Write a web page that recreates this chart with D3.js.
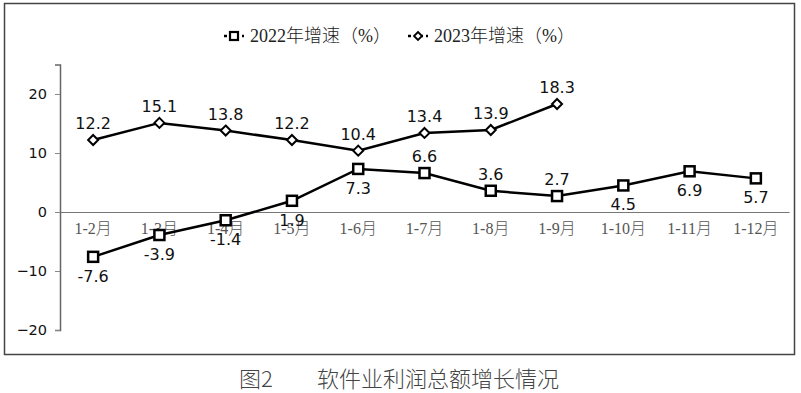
<!DOCTYPE html>
<html>
<head>
	<meta charset="UTF-8">
	<script src="https://d3js.org/d3.v7.min.js"></script>
	<style>
		body{ margin:0; background:#fff; }
	</style>
</head>
<body>
	<div class="chart"></div>
	<script type="text/javascript">
		var months = ["1-2月","1-3月","1-4月","1-5月","1-6月","1-7月","1-8月","1-9月","1-10月","1-11月","1-12月"];
		var growth2022 = [-7.6, -3.9, -1.4, 1.9, 7.3, 6.6, 3.6, 2.7, 4.5, 6.9, 5.7];
		var growth2023 = [12.2, 15.1, 13.8, 12.2, 10.4, 13.4, 13.9, 18.3];
		var yTicks = [-20, -10, 0, 10, 20];
		var legendNames = ["2022年增速（%）", "2023年增速（%）"];
		var title = "图2　　软件业利润总额增长情况";
		// label side for 2022 series: 1 = below, -1 = above
		var side2022 = [1, 1, 1, 1, 1, -1, -1, -1, 1, 1, 1];

		var W = 801, H = 393;
		var l = 60, r = 789;

		var svg = d3.select("div.chart").append("svg")
					.attr("width", W).attr("height", H);

		// outer frame
		svg.append("rect").attr("x", 4.5).attr("y", 3.5).attr("width", 790).attr("height", 351)
		   .attr("fill", "none").attr("stroke", "#444").attr("stroke-width", 1.5);

		var xScale = d3.scaleBand().domain(months).range([l, r]);
		var yScale = d3.scaleLinear().domain([-20, 25]).range([330, 64.5]);
		var cx = function(i){ return xScale(months[i]) + xScale.bandwidth()/2; };

		// y axis
		var yAxis = d3.axisLeft(yScale).tickValues(yTicks).tickSize(5).tickPadding(8);
		var gy = svg.append("g").attr("transform", "translate(" + l + ",0)").call(yAxis);
		gy.select(".domain").attr("stroke", "#666").attr("stroke-width", 1.5);
		gy.selectAll(".tick line").attr("stroke", "#888");
		gy.selectAll(".tick text").attr("font-family", "DejaVu Sans, Verdana, sans-serif")
		  .attr("font-size", "14.5px").attr("fill", "#111");

		// x axis at zero
		var xAxis = d3.axisBottom(xScale).tickSize(0).tickPadding(11);
		var gx = svg.append("g").attr("transform", "translate(0," + yScale(0) + ")").call(xAxis);
		gx.select(".domain").attr("stroke", "#777").attr("stroke-width", 1.2);
		gx.selectAll(".tick text").attr("font-family", "Liberation Serif, Noto Sans CJK SC, serif")
		  .attr("font-size", "16px").attr("font-weight", 300).attr("fill", "#555");

		var line = d3.line().x(function(d, i){ return cx(i); }).y(function(d){ return yScale(d); });

		svg.append("path").datum(growth2022).attr("d", line)
		   .attr("fill", "none").attr("stroke", "#000").attr("stroke-width", 2.5);
		svg.append("path").datum(growth2023).attr("d", line)
		   .attr("fill", "none").attr("stroke", "#000").attr("stroke-width", 2.5);

		// square markers
		svg.selectAll("rect.sq").data(growth2022).enter().append("rect")
		   .attr("class", "sq")
		   .attr("x", function(d, i){ return cx(i) - 5; })
		   .attr("y", function(d){ return yScale(d) - 5; })
		   .attr("width", 10).attr("height", 10)
		   .attr("fill", "#fff").attr("stroke", "#000").attr("stroke-width", 2.5);

		// diamond markers
		svg.selectAll("path.dm").data(growth2023).enter().append("path")
		   .attr("class", "dm")
		   .attr("d", function(d, i){
				var x = cx(i), y = yScale(d), s = 5;
				return "M" + x + "," + (y - s) + "L" + (x + s) + "," + y + "L" + x + "," + (y + s) + "L" + (x - s) + "," + y + "Z";
		   })
		   .attr("fill", "#fff").attr("stroke", "#000").attr("stroke-width", 2);

		// labels
		svg.selectAll("text.l22").data(growth2022).enter().append("text")
		   .attr("class", "l22")
		   .attr("text-anchor", "middle")
		   .attr("x", function(d, i){ return cx(i); })
		   .attr("y", function(d, i){ return yScale(d) + (side2022[i] > 0 ? 25 : -11); })
		   .attr("font-family", "DejaVu Sans, Verdana, sans-serif").attr("font-size", "16px").attr("fill", "#111")
		   .text(function(d){ return d; });

		svg.selectAll("text.l23").data(growth2023).enter().append("text")
		   .attr("class", "l23")
		   .attr("text-anchor", "middle")
		   .attr("x", function(d, i){ return cx(i); })
		   .attr("y", function(d){ return yScale(d) - 11; })
		   .attr("font-family", "DejaVu Sans, Verdana, sans-serif").attr("font-size", "16px").attr("fill", "#111")
		   .text(function(d){ return d; });

		// legend
		var legX = [224, 408];
		legendNames.forEach(function(name, k){
			var g = svg.append("g").attr("transform", "translate(" + legX[k] + ",36)");
			g.append("line").attr("x1", 0).attr("x2", 20).attr("y1", 0).attr("y2", 0)
			 .attr("stroke", "#000").attr("stroke-width", 2.5).attr("stroke-dasharray", "3,3");
			if (k === 0) {
				g.append("rect").attr("x", 6).attr("y", -4).attr("width", 8).attr("height", 8)
				 .attr("fill", "#fff").attr("stroke", "#000").attr("stroke-width", 2.2);
			} else {
				g.append("path").attr("d", "M10,-4L14,0L10,4L6,0Z")
				 .attr("fill", "#fff").attr("stroke", "#000").attr("stroke-width", 1.8);
			}
			g.append("text").attr("x", 26).attr("y", 6)
			 .attr("font-family", "Liberation Serif, Noto Sans CJK SC, serif").attr("font-size", "18px").attr("font-weight", 300).attr("fill", "#222")
			 .text(name);
		});

		// title
		svg.append("text").attr("x", 399).attr("y", 387).attr("text-anchor", "middle")
		   .attr("font-family", "Noto Sans CJK SC, serif").attr("font-size", "22px").attr("font-weight", 300).attr("fill", "#444")
		   .text(title);
	</script>
</body>
</html>
